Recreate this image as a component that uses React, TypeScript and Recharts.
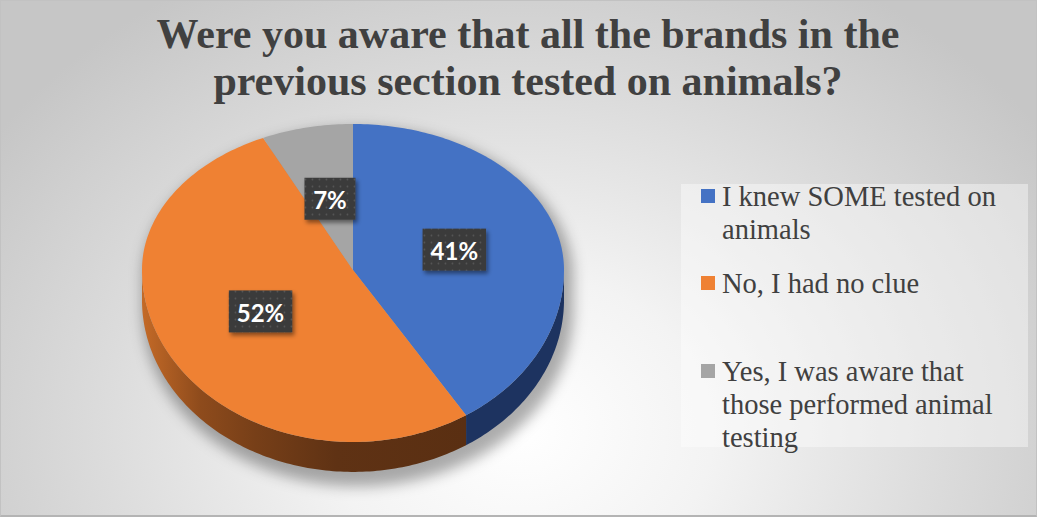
import React from 'react';
import { PieChart, Pie, Cell } from 'recharts';

// ---- data ----
const categories = [
  'I knew SOME tested on animals',
  'No, I had no clue',
  'Yes, I was aware that those performed animal testing',
];
const values = [41, 52, 7];
const valueLabels = ['41%', '52%', '7%'];

// ---- styles ----
const topColors = ['#4472C4', '#EF8133', '#A5A5A5'];
const sideColors = ['#1D3360', 'url(#orangeSide)', '#6b6b6b'];
const TITLE_LINES = ['Were you aware that all the brands in the', 'previous section tested on animals?'];
const LEGEND_TOPS = [179, 266, 354];

const data = categories.map((name, i) => ({ name, value: values[i], label: valueLabels[i], idx: i }));

// perspective-ish ellipse geometry (relative to radius)
const K_TOP = 0.692;
const K_BOTTOM = 0.815;
const K_THICK = 0.142;
const RAD = Math.PI / 180;

function pt(cx: number, cy: number, r: number, deg: number, frac: number, dy = 0) {
  const c = Math.cos(deg * RAD);
  const s = Math.sin(deg * RAD);
  const ry = s > 0 ? r * K_TOP : r * K_BOTTOM;
  return { x: cx + r * frac * c, y: cy - ry * frac * s + dy };
}

function arc(cx: number, cy: number, r: number, a1: number, a2: number, dy = 0) {
  const n = Math.max(2, Math.ceil(Math.abs(a2 - a1)));
  const out: string[] = [];
  for (let k = 0; k <= n; k++) {
    const a = a1 + ((a2 - a1) * k) / n;
    const p = pt(cx, cy, r, a, 1, dy);
    out.push(`${p.x.toFixed(2)},${p.y.toFixed(2)}`);
  }
  return out;
}

function TopShape(props: any) {
  const { cx, cy, outerRadius, startAngle, endAngle, fill } = props;
  const pts = arc(cx, cy, outerRadius, startAngle, endAngle);
  const d = `M${cx},${cy} L${pts.join(' L')} Z`;
  return <path d={d} fill={fill} stroke="none" />;
}

function SideShape(props: any) {
  const { cx, cy, outerRadius, startAngle, endAngle } = props;
  const idx = props.payload?.idx ?? props.idx ?? 0;
  const r = outerRadius;
  const th = r * K_THICK;
  const lo = Math.min(startAngle, endAngle);
  const hi = Math.max(startAngle, endAngle);
  const parts: React.ReactNode[] = [];
  if (idx === 0) {
    const top = arc(cx, cy, r * 1.02, 0, 180);
    const bot = arc(cx, cy, r * 1.02, 180, 360, th + 4);
    parts.push(
      <path
        key="shadow"
        d={`M${top.join(' L')} L${bot.join(' L')} Z`}
        fill="rgba(0,0,0,0.32)"
        filter="url(#pieShadow)"
        transform="translate(5,7)"
      />
    );
  }
  const a1 = Math.max(lo, -180);
  const a2 = Math.min(hi, 0);
  if (a2 > a1) {
    const upper = arc(cx, cy, r, a1, a2);
    const lower = arc(cx, cy, r, a2, a1, th);
    parts.push(
      <path key="side" d={`M${upper.join(' L')} L${lower.join(' L')} Z`} fill={sideColors[idx]} stroke="none" />
    );
  }
  return <g>{parts}</g>;
}

function renderLabel(props: any) {
  const { cx, cy, outerRadius, startAngle, endAngle } = props;
  const mid = props.midAngle ?? (startAngle + endAngle) / 2;
  const idx = props.payload?.idx ?? props.index ?? 0;
  const text = valueLabels[idx];
  const p = pt(cx, cy, outerRadius, mid, 0.5);
  const w = 26 + 12.5 * text.length;
  const h = 42;
  return (
    <g key={`lbl-${idx}`}>
      <rect x={p.x - w / 2} y={p.y - h / 2} width={w} height={h} fill="url(#dots)" filter="url(#lblShadow)" />
      <text
        x={p.x}
        y={p.y + 1}
        textAnchor="middle"
        dominantBaseline="central"
        fill="#ffffff"
        fontFamily="Lato, 'Open Sans', sans-serif"
        fontWeight={700}
        fontSize={24}
      >
        {text}
      </text>
    </g>
  );
}

export default function App() {
  const common = {
    data,
    dataKey: 'value',
    nameKey: 'name',
    cx: 352,
    cy: 269,
    outerRadius: 211,
    startAngle: 90,
    endAngle: -270,
    isAnimationActive: false,
    stroke: 'none',
    labelLine: false,
  } as any;
  return (
    <div
      style={{
        position: 'relative',
        width: 1037,
        height: 517,
        overflow: 'hidden',
        boxSizing: 'border-box',
        border: '1px solid #c2c2c2',
        borderBottom: '2px solid #b4b4b4',
        background:
          'radial-gradient(ellipse 640px 520px at 520px 430px, #ffffff 0%, #f3f3f3 30%, #dcdcdc 65%, #c6c6c6 100%)',
        fontFamily: "'Liberation Serif', 'Times New Roman', serif",
      }}
    >
      <style>{'body{margin:0}'}</style>
      <svg width={0} height={0} style={{ position: 'absolute' }}>
        <defs>
          <linearGradient id="orangeSide" x1="0" y1="0" x2="1" y2="0">
            <stop offset="0" stopColor="#c46a27" />
            <stop offset="0.18" stopColor="#8e4b1c" />
            <stop offset="0.35" stopColor="#773f18" />
            <stop offset="0.6" stopColor="#5f3214" />
            <stop offset="1" stopColor="#5a2f12" />
          </linearGradient>
          <pattern id="dots" width="7" height="7" patternUnits="userSpaceOnUse">
            <rect width="7" height="7" fill="#3b3b3b" />
            <circle cx="3.5" cy="3.5" r="0.9" fill="#555555" />
          </pattern>
          <filter id="lblShadow" x="-30%" y="-30%" width="160%" height="160%">
            <feDropShadow dx="2" dy="3" stdDeviation="2" floodColor="#000" floodOpacity="0.45" />
          </filter>
          <filter id="pieShadow" x="-20%" y="-20%" width="140%" height="140%">
            <feGaussianBlur stdDeviation="7" />
          </filter>
        </defs>
      </svg>

      <div
        style={{
          position: 'absolute',
          left: 27,
          top: 10,
          width: 1000,
          textAlign: 'center',
          fontSize: 42,
          fontWeight: 700,
          lineHeight: '47px',
          color: '#404040',
        }}
      >
        {TITLE_LINES.map((l, i) => (
          <div key={i}>{l}</div>
        ))}
      </div>

      <div style={{ position: 'absolute', left: 0, top: 0 }}>
        <PieChart width={1037} height={517} margin={{ top: 0, right: 0, bottom: 0, left: 0 }}>
          <Pie {...common} shape={SideShape} activeShape={SideShape} inactiveShape={SideShape}>
            {data.map((d, i) => (
              <Cell key={i} fill={topColors[i]} />
            ))}
          </Pie>
          <Pie {...common} shape={TopShape} activeShape={TopShape} inactiveShape={TopShape} label={renderLabel}>
            {data.map((d, i) => (
              <Cell key={i} fill={topColors[i]} />
            ))}
          </Pie>
        </PieChart>
      </div>

      <div
        style={{
          position: 'absolute',
          left: 680,
          top: 183,
          width: 347,
          height: 263,
          background: 'rgba(255,255,255,0.4)',
        }}
      />
      {categories.map((c, i) => (
        <div key={i} style={{ position: 'absolute', left: 700, top: LEGEND_TOPS[i], width: 330 }}>
          <div
            style={{ position: 'absolute', left: 0, top: 9, width: 14, height: 14, background: topColors[i] }}
          />
          <div
            style={{
              marginLeft: 21,
              width: 300,
              fontSize: 28.5,
              lineHeight: '33px',
              color: '#404040',
            }}
          >
            {c}
          </div>
        </div>
      ))}
    </div>
  );
}
